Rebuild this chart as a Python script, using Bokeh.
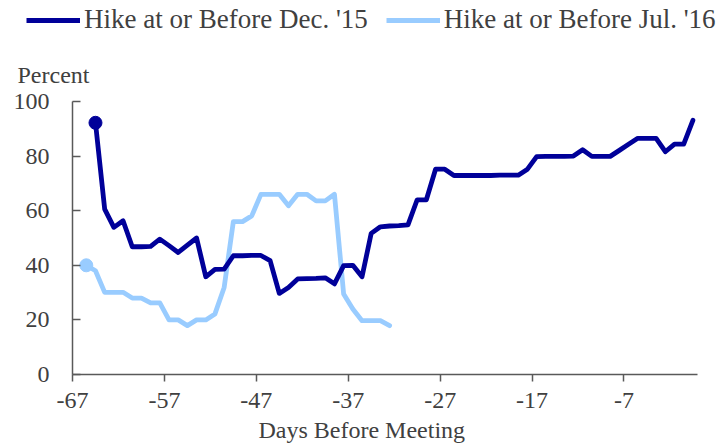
from bokeh.plotting import figure
from bokeh.layouts import column
from bokeh.models import (ColumnDataSource, Legend, LegendItem, FixedTicker, Range1d, Title)
from bokeh.transform import dodge
from bokeh.embed import file_html
from bokeh.resources import INLINE

# ---------------- data ----------------
dec15_days = list(range(-65, 1))
dec15_vals = [92.2, 60.6, 53.9, 56.3, 46.8, 46.8, 46.9, 49.6, 47.2, 44.7, 47.4, 50.0,
              35.8, 38.5, 38.6, 43.5, 43.5, 43.6, 43.6, 41.7, 29.7, 31.9, 35.0, 35.1,
              35.2, 35.4, 33.2, 39.9, 40.0, 35.8, 51.7, 54.1, 54.4, 54.5, 54.8, 64.0,
              64.0, 75.2, 75.2, 72.9, 72.9, 72.9, 72.9, 72.9, 73.0, 73.0, 73.0, 75.2,
              79.8, 79.9, 79.9, 79.9, 80.0, 82.3, 79.9, 79.9, 79.9, 82.1, 84.3, 86.5,
              86.5, 86.5, 81.6, 84.4, 84.4, 93.1]

jul16_days = list(range(-66, -32))
jul16_vals = [40.0, 38.0, 30.1, 30.1, 30.1, 28.0, 28.0, 26.2, 26.2, 20.0, 20.0, 17.9,
              20.0, 20.0, 22.2, 31.9, 56.0, 56.0, 58.1, 66.0, 66.0, 66.0, 61.8, 66.0,
              66.0, 63.6, 63.6, 66.0, 29.5, 24.0, 19.7, 19.7, 19.7, 17.9]

x_ticks = [-67, -57, -47, -37, -27, -17, -7]
x_tick_labels = ["-67", "-57", "-47", "-37", "-27", "-17", "-7"]
y_ticks = [0, 20, 40, 60, 80, 100]

series_names = ["Hike at or Before Dec. '15", "Hike at or Before Jul. '16"]
y_title = "Percent"
x_title = "Days Before Meeting"

dark = "#000099"
light = "#99CCFF"
FONT = '"Liberation Serif"'
TXT = "#404040"
AX = "#595959"
LW = 4.8
W = 717

src_dec = ColumnDataSource(dict(day=dec15_days, val=dec15_vals))
src_jul = ColumnDataSource(dict(day=jul16_days, val=jul16_vals))
src_dec0 = ColumnDataSource(dict(day=dec15_days[:1], val=dec15_vals[:1]))
src_jul0 = ColumnDataSource(dict(day=jul16_days[:1], val=jul16_vals[:1]))

# ---------------- legend strip ----------------
lg = figure(width=W, height=44, output_backend="svg", toolbar_location=None,
            x_axis_type=None, y_axis_type=None, x_range=Range1d(-67, 1),
            y_range=Range1d(1000, 1001), min_border=0)
lg.frame_align = False
lg.outline_line_color = None
lg.grid.visible = False
lr_dec = lg.line(x="day", y="val", source=src_dec, line_color=dark, line_width=LW)
lr_jul = lg.line(x="day", y="val", source=src_jul, line_color=light, line_width=LW)
legend = Legend(items=[LegendItem(label=series_names[0], renderers=[lr_dec]),
                       LegendItem(label=series_names[1], renderers=[lr_jul])],
                location=(26, 9), orientation="horizontal",
                border_line_color=None, background_fill_alpha=0,
                padding=0, margin=0, spacing=18, glyph_width=54, glyph_height=30,
                label_height=30, label_standoff=4,
                label_text_font=FONT, label_text_font_size="27px",
                label_text_color=TXT)
lg.add_layout(legend, "center")

# ---------------- main chart ----------------
p = figure(frame_width=625, frame_height=273, output_backend="svg",
           toolbar_location=None, x_range=Range1d(-67, 1), y_range=Range1d(0, 100),
           min_border_left=72, min_border_right=20, min_border_top=57,
           min_border_bottom=72, title=y_title)
p.frame_align = False
p.outline_line_color = None
p.grid.visible = False

p.title.align = "left"
p.title.offset = -55
p.title.standoff = 28
p.title.text_font = FONT
p.title.text_font_size = "24px"
p.title.text_font_style = "normal"
p.title.text_color = TXT

# each day is drawn at the centre of its category slot
xd = dodge("day", 0.5, range=p.x_range)

p.line(x=xd, y="val", source=src_jul, line_color=light, line_width=LW,
       line_join="round", line_cap="round")
p.scatter(x=xd, y="val", source=src_jul0, size=13, color=light)
p.line(x=xd, y="val", source=src_dec, line_color=dark, line_width=LW,
       line_join="round", line_cap="round")
p.scatter(x=xd, y="val", source=src_dec0, size=13, color=dark)

xa = p.xaxis[0]
xa.ticker = FixedTicker(ticks=x_ticks)
xa.major_label_overrides = dict(zip(x_ticks, x_tick_labels))
xa.minor_tick_line_color = None
xa.major_tick_in = 0
xa.major_tick_out = 7
xa.axis_line_color = AX
xa.axis_line_width = 1.5
xa.major_tick_line_color = AX
xa.major_tick_line_width = 1.5
xa.major_label_text_font = FONT
xa.major_label_text_font_size = "24px"
xa.major_label_text_color = TXT
xa.major_label_standoff = 11

ya = p.yaxis[0]
ya.ticker = FixedTicker(ticks=y_ticks)
ya.minor_tick_line_color = None
ya.major_tick_in = 8
ya.major_tick_out = 0
ya.axis_line_color = AX
ya.axis_line_width = 1.5
ya.major_tick_line_color = AX
ya.major_tick_line_width = 1.5
ya.major_label_text_font = FONT
ya.major_label_text_font_size = "24px"
ya.major_label_text_color = TXT
ya.major_label_standoff = 23

# x-axis title, a little left of the frame centre as in the original
p.add_layout(Title(text=x_title, align="left", offset=186, standoff=9,
                   text_font=FONT, text_font_size="24px", text_font_style="normal",
                   text_color=TXT), "below")

layout = column(lg, p, spacing=0)
open("out.html", "w").write(file_html(layout, INLINE))
